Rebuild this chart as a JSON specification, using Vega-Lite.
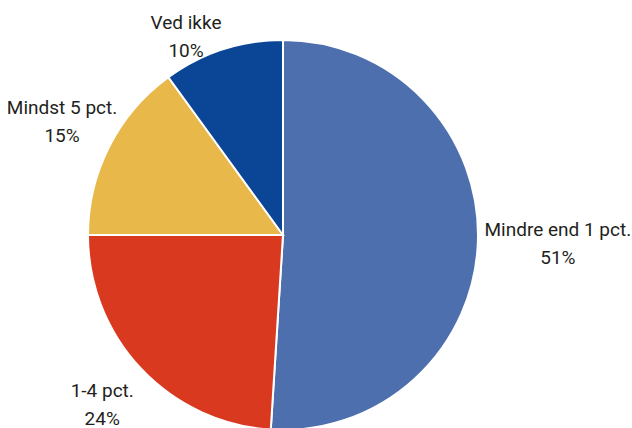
{
  "$schema": "https://vega.github.io/schema/vega-lite/v6.json",
  "width": 566,
  "height": 386,
  "autosize": "none",
  "padding": {"left": 0, "top": 42, "right": 66, "bottom": 0},
  "background": "white",
  "config": {"view": {"stroke": null}},
  "data": {"values": [
    {"idx": 1, "label": "Mindre end 1 pct.", "value": 51},
    {"idx": 2, "label": "1-4 pct.", "value": 24},
    {"idx": 3, "label": "Mindst 5 pct.", "value": 15},
    {"idx": 4, "label": "Ved ikke", "value": 10}
  ]},
  "layer": [
    {
      "mark": {"type": "arc", "outerRadius": 195, "stroke": "white", "strokeWidth": 2},
      "encoding": {
        "theta": {"field": "value", "type": "quantitative", "stack": true, "scale": {"domain": [0, 100]}},
        "order": {"field": "idx", "type": "quantitative"},
        "color": {"field": "label", "type": "nominal", "legend": null,
          "scale": {"domain": ["Mindre end 1 pct.", "1-4 pct.", "Mindst 5 pct.", "Ved ikke"],
                    "range": ["#4E6FAE", "#D8391F", "#E8B84B", "#0A4596"]}}
      }
    },
    {
      "transform": [
        {"stack": "value", "groupby": [], "sort": [{"field": "idx"}], "as": ["v0", "v1"]},
        {"calculate": "(datum.v0 + datum.v1) / 2", "as": "mid"},
        {"calculate": "datum.label + '\\n' + datum.value + '%'", "as": "txt"},
        {"filter": "datum.idx == 1"}
      ],
      "mark": {"type": "text", "radius": 275, "dy": -14, "align": "center", "baseline": "middle", "lineBreak": "\n", "lineHeight": 28, "font": "Roboto", "fontSize": 19, "color": "#231F20"},
      "encoding": {
        "theta": {"field": "mid", "type": "quantitative", "stack": null, "scale": {"domain": [0, 100]}},
        "text": {"field": "txt"}
      }
    },
    {
      "transform": [
        {"stack": "value", "groupby": [], "sort": [{"field": "idx"}], "as": ["v0", "v1"]},
        {"calculate": "(datum.v0 + datum.v1) / 2", "as": "mid"},
        {"calculate": "datum.label + '\\n' + datum.value + '%'", "as": "txt"},
        {"filter": "datum.idx == 2 || datum.idx == 3"}
      ],
      "mark": {"type": "text", "radius": 248, "dy": -14, "align": "center", "baseline": "middle", "lineBreak": "\n", "lineHeight": 28, "font": "Roboto", "fontSize": 19, "color": "#231F20"},
      "encoding": {
        "theta": {"field": "mid", "type": "quantitative", "stack": null, "scale": {"domain": [0, 100]}},
        "text": {"field": "txt"}
      }
    },
    {
      "transform": [
        {"stack": "value", "groupby": [], "sort": [{"field": "idx"}], "as": ["v0", "v1"]},
        {"calculate": "(datum.v0 + datum.v1) / 2", "as": "mid"},
        {"calculate": "datum.label + '\\n' + datum.value + '%'", "as": "txt"},
        {"filter": "datum.idx == 4"}
      ],
      "mark": {"type": "text", "radius": 220, "dx": -29, "dy": -3, "align": "center", "baseline": "middle", "lineBreak": "\n", "lineHeight": 28, "font": "Roboto", "fontSize": 19, "color": "#231F20"},
      "encoding": {
        "theta": {"field": "mid", "type": "quantitative", "stack": null, "scale": {"domain": [0, 100]}},
        "text": {"field": "txt"}
      }
    }
  ]
}
